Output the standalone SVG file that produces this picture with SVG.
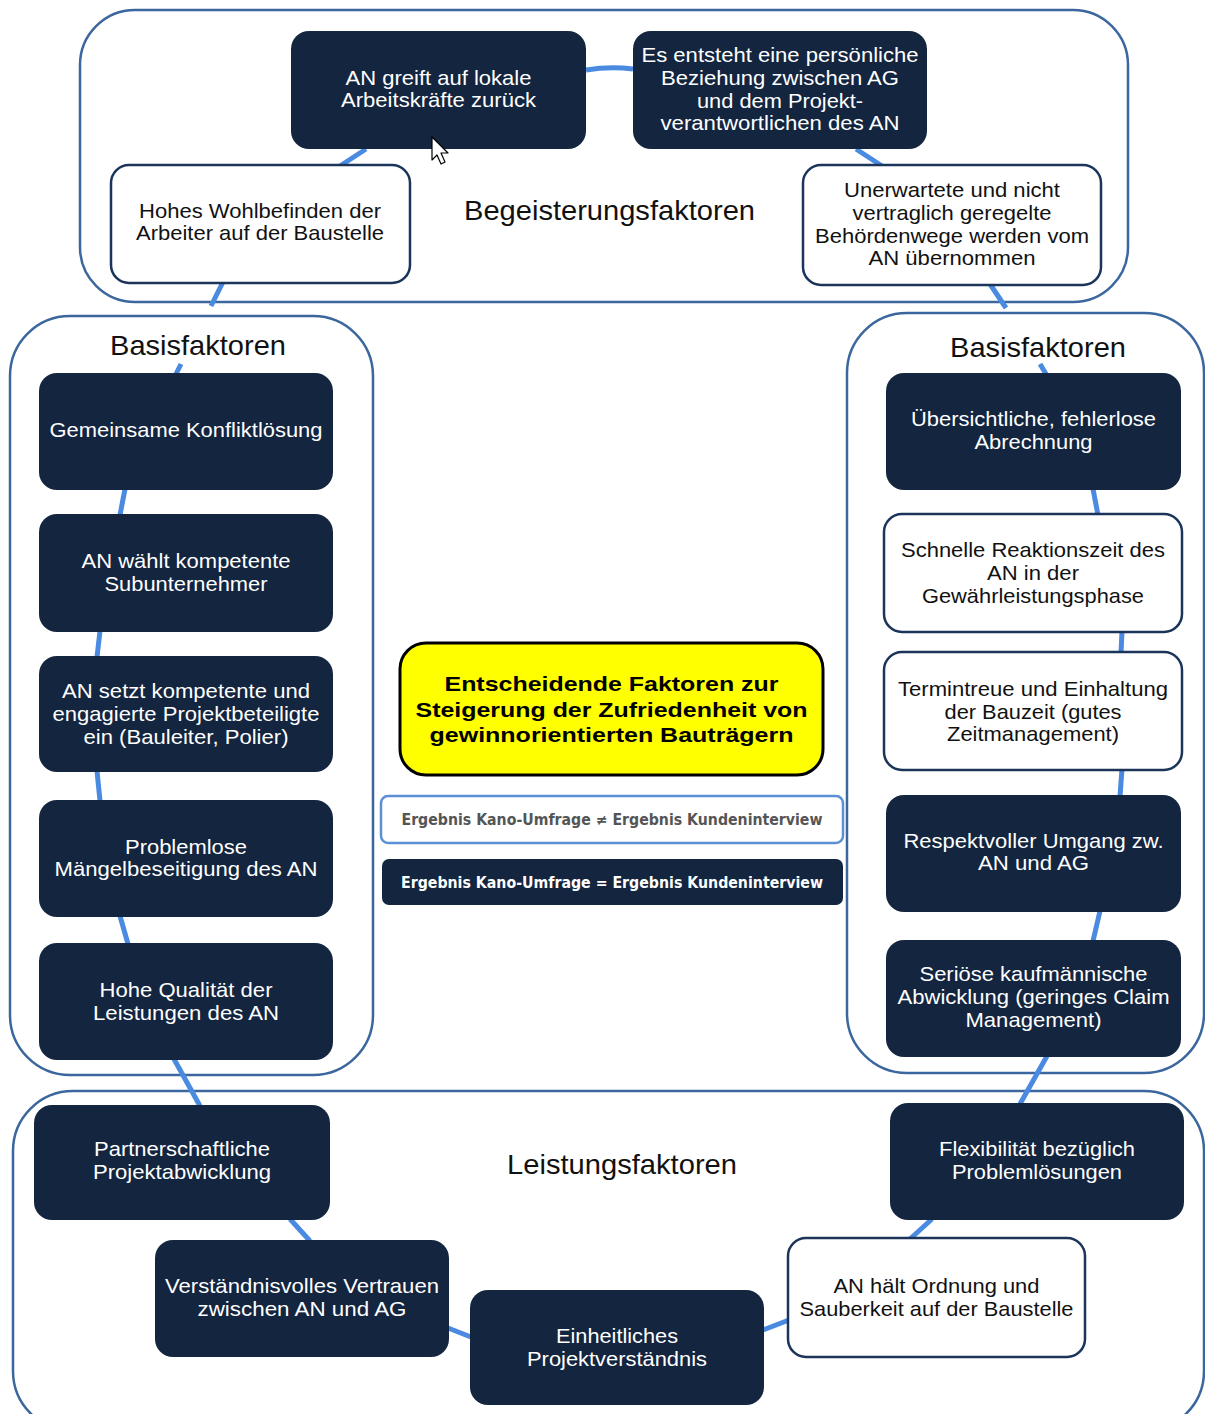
<svg xmlns="http://www.w3.org/2000/svg" width="1205" height="1414" viewBox="0 0 1205 1414">
<style>
.cont{fill:#fff;stroke:#3c679e;stroke-width:2.5}
.dark{fill:#13253f}
.light{fill:#fff;stroke:#1b355a;stroke-width:2.5}
.conn{stroke:#4a8ae0;stroke-width:5;fill:none}
.t{font-family:"Liberation Sans",Arial,sans-serif;font-size:21px;text-anchor:middle}
.tw{fill:#fff}
.tk{fill:#111}
.lbl{font-family:"Liberation Sans",Arial,sans-serif;font-size:28px;text-anchor:middle;fill:#111}
.leg{font-family:"DejaVu Sans",Verdana,sans-serif;font-size:15px;font-weight:bold;text-anchor:middle}
</style>
<rect width="1205" height="1414" fill="#fff"/>
<g id="containers">
<rect id="begeisterung" class="cont" x="80" y="10" width="1048" height="292" rx="55"/>
<rect id="basis-left" class="cont" x="10" y="316" width="363" height="759" rx="60"/>
<rect id="basis-right" class="cont" x="847" y="313" width="357" height="760" rx="60"/>
<rect id="leistung" class="cont" x="13" y="1091" width="1191" height="340" rx="60"/>
<text class="lbl" x="609.5" y="220" font-size="29" textLength="291" lengthAdjust="spacingAndGlyphs">Begeisterungsfaktoren</text>
<text class="lbl" x="198" y="355" textLength="176" lengthAdjust="spacingAndGlyphs">Basisfaktoren</text>
<text class="lbl" x="1038" y="357" textLength="176" lengthAdjust="spacingAndGlyphs">Basisfaktoren</text>
<text class="lbl" x="622" y="1174" textLength="230" lengthAdjust="spacingAndGlyphs">Leistungsfaktoren</text>
</g>
<g id="connectors">
<path class="conn" d="M340,166 L366,149"/>
<path class="conn" d="M586,70 Q610,66 633,69"/>
<path class="conn" d="M856,149 L882,166"/>
<path class="conn" d="M990,284 L1006,308 M1040,364 L1046,374"/>
<path class="conn" d="M1093,489 L1098,515"/>
<path class="conn" d="M1122,631 L1121,653"/>
<path class="conn" d="M1122,769 L1120,796"/>
<path class="conn" d="M1100,911 L1093,941"/>
<path class="conn" d="M1047,1056 L1020,1104"/>
<path class="conn" d="M932,1219 L910,1239"/>
<path class="conn" d="M789,1320 L763,1330"/>
<path class="conn" d="M471,1337 L448,1328"/>
<path class="conn" d="M310,1241 L290,1219"/>
<path class="conn" d="M200,1106 L174,1059"/>
<path class="conn" d="M128,944 L120,916"/>
<path class="conn" d="M100,801 L97,771"/>
<path class="conn" d="M97,657 L100,631"/>
<path class="conn" d="M120,515 L125,489"/>
<path class="conn" d="M176,374 L181,364 M211,306 L223,282"/>
</g>
<g id="n1"><rect class="dark" x="291" y="31" width="295" height="118" rx="18"/>
<text class="t tw" x="438.5" y="85" textLength="186" lengthAdjust="spacingAndGlyphs">AN greift auf lokale</text>
<text class="t tw" x="438.5" y="107" textLength="195" lengthAdjust="spacingAndGlyphs">Arbeitskräfte zurück</text></g>
<g id="n2"><rect class="dark" x="633" y="31" width="294" height="118" rx="18"/>
<text class="t tw" x="780" y="62" textLength="277" lengthAdjust="spacingAndGlyphs">Es entsteht eine persönliche</text>
<text class="t tw" x="780" y="85" textLength="238" lengthAdjust="spacingAndGlyphs">Beziehung zwischen AG</text>
<text class="t tw" x="780" y="108" textLength="166" lengthAdjust="spacingAndGlyphs">und dem Projekt-</text>
<text class="t tw" x="780" y="130" textLength="239" lengthAdjust="spacingAndGlyphs">verantwortlichen des AN</text></g>
<g id="n3"><rect class="light" x="111" y="165" width="299" height="118" rx="18"/>
<text class="t tk" x="260" y="218" textLength="242" lengthAdjust="spacingAndGlyphs">Hohes Wohlbefinden der</text>
<text class="t tk" x="260" y="240" textLength="248" lengthAdjust="spacingAndGlyphs">Arbeiter auf der Baustelle</text></g>
<g id="n4"><rect class="light" x="803" y="165" width="298" height="120" rx="18"/>
<text class="t tk" x="952" y="197" textLength="216" lengthAdjust="spacingAndGlyphs">Unerwartete und nicht</text>
<text class="t tk" x="952" y="220" textLength="199" lengthAdjust="spacingAndGlyphs">vertraglich geregelte</text>
<text class="t tk" x="952" y="243" textLength="274" lengthAdjust="spacingAndGlyphs">Behördenwege werden vom</text>
<text class="t tk" x="952" y="265" textLength="167" lengthAdjust="spacingAndGlyphs">AN übernommen</text></g>
<g id="n5"><rect class="dark" x="39" y="373" width="294" height="117" rx="18"/>
<text class="t tw" x="186" y="437" font-size="22" textLength="273" lengthAdjust="spacingAndGlyphs">Gemeinsame Konfliktlösung</text></g>
<g id="n6"><rect class="dark" x="39" y="514" width="294" height="118" rx="18"/>
<text class="t tw" x="186" y="568" textLength="209" lengthAdjust="spacingAndGlyphs">AN wählt kompetente</text>
<text class="t tw" x="186" y="591" textLength="163" lengthAdjust="spacingAndGlyphs">Subunternehmer</text></g>
<g id="n7"><rect class="dark" x="39" y="656" width="294" height="116" rx="18"/>
<text class="t tw" x="186" y="698" textLength="248" lengthAdjust="spacingAndGlyphs">AN setzt kompetente und</text>
<text class="t tw" x="186" y="721" textLength="267" lengthAdjust="spacingAndGlyphs">engagierte Projektbeteiligte</text>
<text class="t tw" x="186" y="744" textLength="205" lengthAdjust="spacingAndGlyphs">ein (Bauleiter, Polier)</text></g>
<g id="n8"><rect class="dark" x="39" y="800" width="294" height="117" rx="18"/>
<text class="t tw" x="186" y="854" textLength="122" lengthAdjust="spacingAndGlyphs">Problemlose</text>
<text class="t tw" x="186" y="876" textLength="263" lengthAdjust="spacingAndGlyphs">Mängelbeseitigung des AN</text></g>
<g id="n9"><rect class="dark" x="39" y="943" width="294" height="117" rx="18"/>
<text class="t tw" x="186" y="997" textLength="173" lengthAdjust="spacingAndGlyphs">Hohe Qualität der</text>
<text class="t tw" x="186" y="1020" textLength="186" lengthAdjust="spacingAndGlyphs">Leistungen des AN</text></g>
<g id="n10"><rect class="dark" x="886" y="373" width="295" height="117" rx="18"/>
<text class="t tw" x="1033.5" y="426" textLength="245" lengthAdjust="spacingAndGlyphs">Übersichtliche, fehlerlose</text>
<text class="t tw" x="1033.5" y="449" textLength="118" lengthAdjust="spacingAndGlyphs">Abrechnung</text></g>
<g id="n11"><rect class="light" x="884" y="514" width="298" height="118" rx="18"/>
<text class="t tk" x="1033" y="557" textLength="264" lengthAdjust="spacingAndGlyphs">Schnelle Reaktionszeit des</text>
<text class="t tk" x="1033" y="580" textLength="92" lengthAdjust="spacingAndGlyphs">AN in der</text>
<text class="t tk" x="1033" y="603" textLength="222" lengthAdjust="spacingAndGlyphs">Gewährleistungsphase</text></g>
<g id="n12"><rect class="light" x="884" y="652" width="298" height="118" rx="18"/>
<text class="t tk" x="1033" y="696" textLength="270" lengthAdjust="spacingAndGlyphs">Termintreue und Einhaltung</text>
<text class="t tk" x="1033" y="719" textLength="177" lengthAdjust="spacingAndGlyphs">der Bauzeit (gutes</text>
<text class="t tk" x="1033" y="741" textLength="172" lengthAdjust="spacingAndGlyphs">Zeitmanagement)</text></g>
<g id="n13"><rect class="dark" x="886" y="795" width="295" height="117" rx="18"/>
<text class="t tw" x="1033.5" y="848" textLength="260" lengthAdjust="spacingAndGlyphs">Respektvoller Umgang zw.</text>
<text class="t tw" x="1033.5" y="870" textLength="111" lengthAdjust="spacingAndGlyphs">AN und AG</text></g>
<g id="n14"><rect class="dark" x="886" y="940" width="295" height="117" rx="18"/>
<text class="t tw" x="1033.5" y="981" textLength="228" lengthAdjust="spacingAndGlyphs">Seriöse kaufmännische</text>
<text class="t tw" x="1033.5" y="1004" textLength="272" lengthAdjust="spacingAndGlyphs">Abwicklung (geringes Claim</text>
<text class="t tw" x="1033.5" y="1027" textLength="136" lengthAdjust="spacingAndGlyphs">Management)</text></g>
<g id="n15"><rect class="dark" x="34" y="1105" width="296" height="115" rx="18"/>
<text class="t tw" x="182" y="1156" textLength="176" lengthAdjust="spacingAndGlyphs">Partnerschaftliche</text>
<text class="t tw" x="182" y="1179" textLength="178" lengthAdjust="spacingAndGlyphs">Projektabwicklung</text></g>
<g id="n16"><rect class="dark" x="155" y="1240" width="294" height="117" rx="18"/>
<text class="t tw" x="302" y="1293" textLength="274" lengthAdjust="spacingAndGlyphs">Verständnisvolles Vertrauen</text>
<text class="t tw" x="302" y="1316" textLength="209" lengthAdjust="spacingAndGlyphs">zwischen AN und AG</text></g>
<g id="n17"><rect class="dark" x="470" y="1290" width="294" height="115" rx="18"/>
<text class="t tw" x="617" y="1343" textLength="122" lengthAdjust="spacingAndGlyphs">Einheitliches</text>
<text class="t tw" x="617" y="1366" textLength="180" lengthAdjust="spacingAndGlyphs">Projektverständnis</text></g>
<g id="n18"><rect class="light" x="788" y="1238" width="297" height="119" rx="18"/>
<text class="t tk" x="936.5" y="1293" textLength="206" lengthAdjust="spacingAndGlyphs">AN hält Ordnung und</text>
<text class="t tk" x="936.5" y="1316" textLength="274" lengthAdjust="spacingAndGlyphs">Sauberkeit auf der Baustelle</text></g>
<g id="n19"><rect class="dark" x="890" y="1103" width="294" height="117" rx="18"/>
<text class="t tw" x="1037" y="1156" textLength="196" lengthAdjust="spacingAndGlyphs">Flexibilität bezüglich</text>
<text class="t tw" x="1037" y="1179" textLength="170" lengthAdjust="spacingAndGlyphs">Problemlösungen</text></g>
<g id="center">
<rect x="400" y="643" width="423" height="132" rx="26" fill="#ffff00" stroke="#000" stroke-width="3"/>
<text class="t" x="611.5" y="691" font-size="23" font-weight="bold" fill="#000" textLength="334" lengthAdjust="spacingAndGlyphs">Entscheidende Faktoren zur</text>
<text class="t" x="611.5" y="717" font-size="23" font-weight="bold" fill="#000" textLength="392" lengthAdjust="spacingAndGlyphs">Steigerung der Zufriedenheit von</text>
<text class="t" x="611.5" y="742" font-size="23" font-weight="bold" fill="#000" textLength="364" lengthAdjust="spacingAndGlyphs">gewinnorientierten Bauträgern</text>
</g>
<g id="legend-neq">
<rect x="381" y="796" width="462" height="47" rx="7" fill="#fff" stroke="#5b90d6" stroke-width="2.5"/>
<text class="leg" x="612" y="825" fill="#555" textLength="421" lengthAdjust="spacingAndGlyphs">Ergebnis Kano-Umfrage ≠ Ergebnis Kundeninterview</text>
</g>
<g id="legend-eq">
<rect x="382" y="859" width="461" height="46" rx="7" fill="#13253f"/>
<text class="leg" x="612" y="888" fill="#fff" textLength="422" lengthAdjust="spacingAndGlyphs">Ergebnis Kano-Umfrage = Ergebnis Kundeninterview</text>
</g>
<path id="cursor" d="M432,137 L432,160 L437,155 L441,164 L445,162 L441,153 L448,153 Z" fill="#fff" stroke="#000" stroke-width="1.2" stroke-linejoin="round"/>
</svg>
